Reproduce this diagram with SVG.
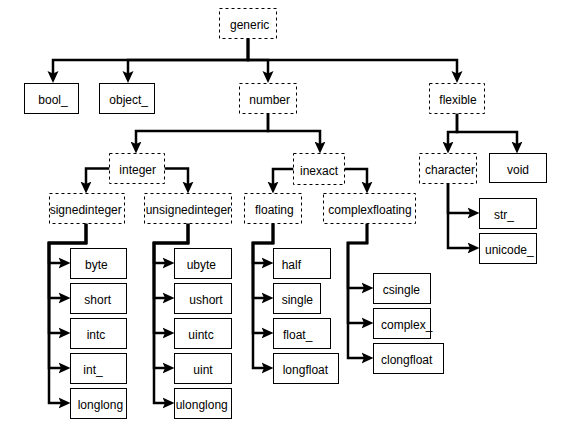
<svg xmlns="http://www.w3.org/2000/svg" width="564" height="427" viewBox="0 0 564 427">
<style>
.b{fill:#fff;stroke:#000;stroke-width:1}
.d{fill:#fff;stroke:#000;stroke-width:1;stroke-dasharray:3 3}
text{font-family:"Liberation Sans",Arial,sans-serif;font-size:12px;fill:#000}
.c{fill:none;stroke:#000;stroke-width:2.5;stroke-linejoin:miter;marker-end:url(#ah)}
</style>
<defs>
<marker id="ah" viewBox="0 0 12 12" refX="6" refY="6" markerWidth="12" markerHeight="12" markerUnits="userSpaceOnUse" orient="auto">
<path d="M0,0.5 L12,6 L0,11.5 L2.5,6 z" fill="#000"/>
</marker>
</defs>
<rect width="564" height="427" fill="#fff"/>
<g id="connectors">
<path class="c" d="M248,38.5 V60 H53 V77"/>
<path class="c" d="M248,38.5 V60 H128 V77"/>
<path class="c" d="M248,38.5 V60 H268 V77"/>
<path class="c" d="M248,38.5 V60 H457 V77"/>
<path class="c" d="M268,113.5 V131 H136 V147.5"/>
<path class="c" d="M268,113.5 V131 H320 V147.5"/>
<path class="c" d="M457,113.5 V132 H448 V147.5"/>
<path class="c" d="M457,113.5 V132 H517 V147.5"/>
<path class="c" d="M109.5,168.5 H86 V187.5"/>
<path class="c" d="M164.5,168.5 H188 V187.5"/>
<path class="c" d="M293.5,169 H273 V187.5"/>
<path class="c" d="M344.5,169 H367 V187.5"/>
<path class="c" d="M448,183.5 V213 H473.5"/>
<path class="c" d="M448,183.5 V248 H473.5"/>
<path class="c" d="M86,223.5 V243 H49 V263 H64.5"/>
<path class="c" d="M86,223.5 V243 H49 V298 H64.5"/>
<path class="c" d="M86,223.5 V243 H49 V333 H64.5"/>
<path class="c" d="M86,223.5 V243 H49 V368 H64.5"/>
<path class="c" d="M86,223.5 V243 H49 V403 H64.5"/>
<path class="c" d="M188,223.5 V243 H154 V263 H168.5"/>
<path class="c" d="M188,223.5 V243 H154 V298 H168.5"/>
<path class="c" d="M188,223.5 V243 H154 V333 H168.5"/>
<path class="c" d="M188,223.5 V243 H154 V368 H168.5"/>
<path class="c" d="M188,223.5 V243 H154 V403 H168.5"/>
<path class="c" d="M273,223.5 V243 H253 V263 H267.5"/>
<path class="c" d="M273,223.5 V243 H253 V298 H267.5"/>
<path class="c" d="M273,223.5 V243 H253 V333 H267.5"/>
<path class="c" d="M273,223.5 V243 H253 V368 H267.5"/>
<path class="c" d="M367,223.5 V243 H348 V288 H367.5"/>
<path class="c" d="M367,223.5 V243 H348 V323 H367.5"/>
<path class="c" d="M367,223.5 V243 H348 V358 H367.5"/>
</g>
<g id="generic"><rect class="d" x="219.5" y="8.5" width="57" height="30"/><text x="230" y="29">generic</text></g>
<g id="bool_"><rect class="b" x="24.5" y="83.5" width="54" height="30"/><text x="38.3" y="104">bool_</text></g>
<g id="object_"><rect class="b" x="99.5" y="83.5" width="55" height="30"/><text x="109.3" y="104">object_</text></g>
<g id="number"><rect class="d" x="239.5" y="83.5" width="57" height="30"/><text x="249.3" y="104">number</text></g>
<g id="flexible"><rect class="d" x="429.5" y="83.5" width="55" height="30"/><text x="439.3" y="104">flexible</text></g>
<g id="integer"><rect class="d" x="109.5" y="153.5" width="55" height="30"/><text x="119.3" y="174">integer</text></g>
<g id="inexact"><rect class="d" x="293.5" y="153.5" width="51" height="31"/><text x="300" y="174.5">inexact</text></g>
<g id="character"><rect class="d" x="419.5" y="153.5" width="57" height="30"/><text x="425" y="174">character</text></g>
<g id="void"><rect class="b" x="489.5" y="153.5" width="57" height="29"/><text x="518" y="174" text-anchor="middle">void</text></g>
<g id="signedinteger"><rect class="d" x="49.5" y="193.5" width="75" height="30"/><text x="49.7" y="214">signedinteger</text></g>
<g id="unsignedinteger"><rect class="d" x="144.5" y="193.5" width="87" height="30"/><text x="145.7" y="214">unsignedinteger</text></g>
<g id="floating"><rect class="d" x="244.5" y="193.5" width="57" height="30"/><text x="255" y="214">floating</text></g>
<g id="complexfloating"><rect class="d" x="323.5" y="193.5" width="92" height="30"/><text x="328.3" y="214">complexfloating</text></g>
<g id="str_"><rect class="b" x="479.5" y="198.5" width="57" height="30"/><text x="494" y="219">str_</text></g>
<g id="unicode_"><rect class="b" x="479.5" y="233.5" width="57" height="30"/><text x="485" y="254">unicode_</text></g>
<g id="byte"><rect class="b" x="70.5" y="248.5" width="56" height="30"/><text x="85" y="269">byte</text></g>
<g id="short"><rect class="b" x="70.5" y="283.5" width="56" height="30"/><text x="84.3" y="304">short</text></g>
<g id="intc"><rect class="b" x="70.5" y="318.5" width="56" height="30"/><text x="86.7" y="339">intc</text></g>
<g id="int_"><rect class="b" x="70.5" y="353.5" width="56" height="30"/><text x="83.3" y="374">int_</text></g>
<g id="longlong"><rect class="b" x="70.5" y="388.5" width="56" height="30"/><text x="77.7" y="409">longlong</text></g>
<g id="ubyte"><rect class="b" x="174.5" y="248.5" width="57" height="30"/><text x="186.7" y="269">ubyte</text></g>
<g id="ushort"><rect class="b" x="174.5" y="283.5" width="57" height="30"/><text x="189.3" y="304">ushort</text></g>
<g id="uintc"><rect class="b" x="174.5" y="318.5" width="57" height="30"/><text x="188.3" y="339">uintc</text></g>
<g id="uint"><rect class="b" x="174.5" y="353.5" width="57" height="30"/><text x="193.3" y="374">uint</text></g>
<g id="ulonglong"><rect class="b" x="174.5" y="388.5" width="57" height="30"/><text x="175.7" y="409">ulonglong</text></g>
<g id="half"><rect class="b" x="273.5" y="248.5" width="57" height="30"/><text x="281.7" y="269">half</text></g>
<g id="single"><rect class="b" x="273.5" y="283.5" width="47" height="30"/><text x="281.7" y="304">single</text></g>
<g id="float_"><rect class="b" x="273.5" y="318.5" width="57" height="30"/><text x="283" y="339">float_</text></g>
<g id="longfloat"><rect class="b" x="273.5" y="353.5" width="65" height="30"/><text x="282.7" y="374">longfloat</text></g>
<g id="csingle"><rect class="b" x="373.5" y="273.5" width="57" height="30"/><text x="382.7" y="294">csingle</text></g>
<g id="complex_"><rect class="b" x="373.5" y="308.5" width="57" height="30"/><text x="381" y="329">complex_</text></g>
<g id="clongfloat"><rect class="b" x="373.5" y="343.5" width="70" height="30"/><text x="381" y="364">clongfloat</text></g>
</svg>
